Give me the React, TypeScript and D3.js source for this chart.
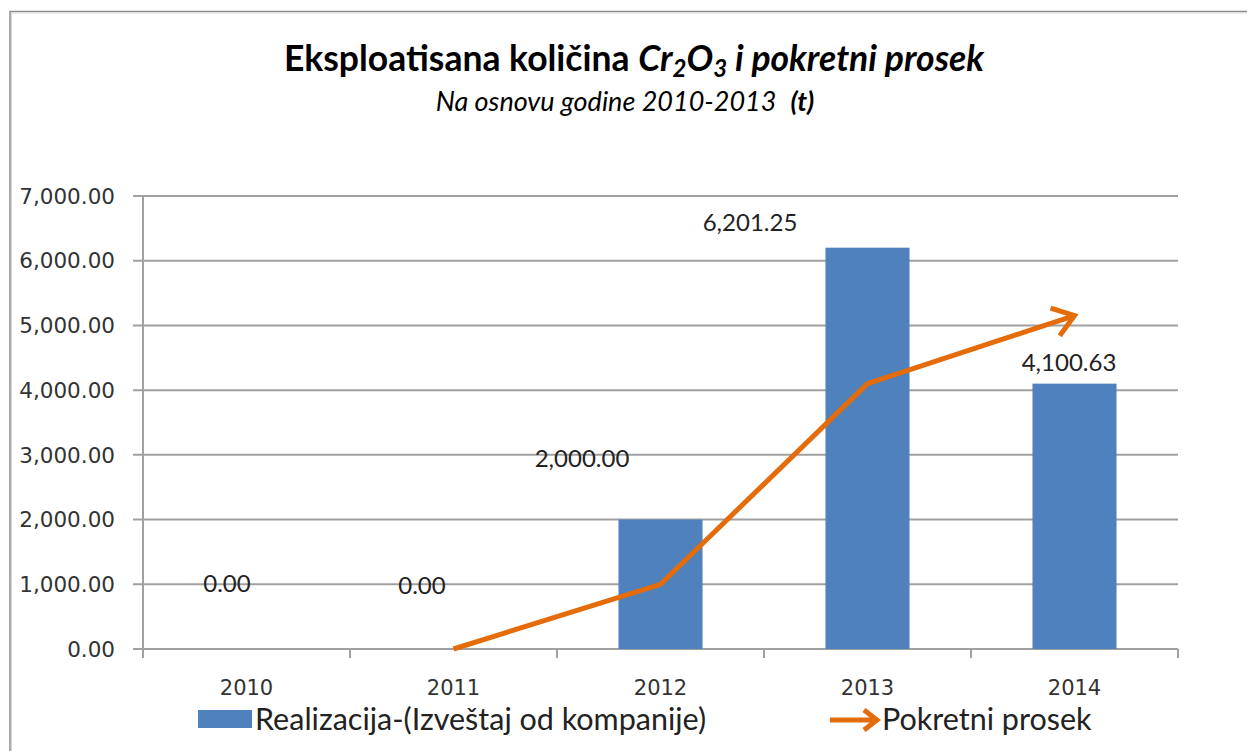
import React from "react";
import * as d3 from "d3";

const years = ["2010", "2011", "2012", "2013", "2014"];
const realizacija = [0, 0, 2000, 6201.25, 4100.63];
const pokretniProsek: (number | null)[] = [null, 0, 1000, 4100.63, 5150.94];
const yTicks = [0, 1000, 2000, 3000, 4000, 5000, 6000, 7000];
const labelTexts = ["0.00", "0.00", "2,000.00", "6,201.25", "4,100.63"];
// manual label displacement (px) as in the original
const labelShift = [
  [-19.5, -66],
  [-31.5, -64],
  [-78.5, -61.6],
  [-117.5, -25.7],
  [-5.5, -21.7],
];

const W = 1247;
const H = 751;
const plot = { left: 143, right: 1178, top: 196, bottom: 649 };
const BLUE = "#4F81BD";
const ORANGE = "#E46C0A";
const GRID = "#A0A0A0";
const CAL = "Lato, 'Open Sans', sans-serif";
const TAH = "'DejaVu Sans', Verdana, sans-serif";

export default function App() {
  const x = d3.scaleBand<string>().domain(years).range([plot.left, plot.right]).paddingInner(0.594).paddingOuter(0.297);
  const xb = d3.scaleBand<string>().domain(years).range([plot.left, plot.right]);
  const y = d3.scaleLinear().domain([0, 7000]).range([plot.bottom, plot.top]);
  const cx = (yr: string) => (xb(yr) as number) + xb.bandwidth() / 2;

  const pts = years
    .map((yr, i) => ({ yr, v: pokretniProsek[i] }))
    .filter((d) => d.v !== null) as { yr: string; v: number }[];
  const line = d3
    .line<{ yr: string; v: number }>()
    .x((d) => cx(d.yr))
    .y((d) => y(d.v));
  const last = pts[pts.length - 1];
  const prev = pts[pts.length - 2];
  const ex = cx(last.yr), ey = y(last.v);
  const ang = Math.atan2(ey - y(prev.v), ex - cx(prev.yr));
  const hl = 25, ha = 0.62;
  const head = `M${ex - hl * Math.cos(ang - ha)},${ey - hl * Math.sin(ang - ha)} L${ex},${ey} L${ex - hl * Math.cos(ang + ha)},${ey - hl * Math.sin(ang + ha)}`;

  const bounds = [plot.left, ...years.map((yr) => (xb(yr) as number) + xb.bandwidth())];

  return (
    <svg width={W} height={H} style={{ position: "absolute", left: 0, top: 0, background: "#fff" }}>
      <rect x={0} y={0} width={W} height={H} fill="#fff" />
      {/* frame */}
      <path d={`M10,${H + 5} L10,11.5 L${W + 5},11.5`} fill="none" stroke="#8c8c8c" strokeWidth={1.5} />
      <path d={`M11.5,${H + 5} L11.5,13 L${W + 5},13`} fill="none" stroke="#d9d9d9" strokeWidth={1} />

      {/* title */}
      <text x={634} y={71} textAnchor="middle" fontFamily={CAL} fontWeight="bold" fontSize={35.5} fill="#000">
        <tspan>Eksploatisana količina </tspan>
        <tspan fontStyle="italic">Cr</tspan>
        <tspan fontStyle="italic" fontSize={24} dy={6}>2</tspan>
        <tspan fontStyle="italic" dy={-6}>O</tspan>
        <tspan fontStyle="italic" fontSize={24} dy={6}>3</tspan>
        <tspan fontStyle="italic" dy={-6}> i pokretni prosek</tspan>
      </text>
      <text x={625} y={111} textAnchor="middle" fontFamily={CAL} fontStyle="italic" fontSize={27} fill="#000">
        <tspan>Na osnovu godine 2010-2013</tspan>
        <tspan fontWeight="bold" dx={14}>(t)</tspan>
      </text>

      {/* gridlines */}
      {yTicks.map((t) => (
        <line key={t} x1={plot.left - 10} x2={plot.right} y1={y(t)} y2={y(t)} stroke={GRID} strokeWidth={2} />
      ))}
      {/* y axis */}
      <line x1={plot.left} x2={plot.left} y1={plot.top} y2={plot.bottom + 9} stroke={GRID} strokeWidth={2} />
      {bounds.map((b, i) => (
        <line key={i} x1={b} x2={b} y1={plot.bottom} y2={plot.bottom + 9} stroke={GRID} strokeWidth={2} />
      ))}
      {yTicks.map((t) => (
        <text key={t} x={plot.left - 28} y={y(t)} dy="0.36em" textAnchor="end" fontFamily={TAH} fontSize={21.5} fill="#333">
          {d3.format(",.2f")(t)}
        </text>
      ))}
      {years.map((yr) => (
        <text key={yr} x={cx(yr)} y={687} dy="0.36em" textAnchor="middle" fontFamily={TAH} fontSize={21} fill="#333">
          {yr}
        </text>
      ))}

      {/* bars */}
      {years.map((yr, i) => (
        <rect key={yr} x={x(yr)} y={y(realizacija[i])} width={x.bandwidth()} height={plot.bottom - y(realizacija[i])} fill={BLUE} />
      ))}

      {/* moving average line */}
      <path d={line(pts) as string} fill="none" stroke={ORANGE} strokeWidth={5} strokeLinejoin="round" />
      <path d={head} fill="none" stroke={ORANGE} strokeWidth={5} strokeLinecap="butt" strokeLinejoin="miter" />

      {/* data labels */}
      {years.map((yr, i) => (
        <text
          key={yr}
          x={cx(yr) + labelShift[i][0]}
          y={y(realizacija[i]) + labelShift[i][1]}
          dy="0.36em"
          textAnchor="middle"
          fontFamily={CAL}
          fontSize={24}
          fill="#222"
        >
          {labelTexts[i]}
        </text>
      ))}

      {/* legend */}
      <rect x={198} y={710} width={54} height={18} fill={BLUE} />
      <text x={255} y={719} dy="0.36em" fontFamily={CAL} fontSize={30.5} fill="#222">
        Realizacija-(Izveštaj od kompanije)
      </text>
      <line x1={830} x2={874} y1={720} y2={720} stroke={ORANGE} strokeWidth={5} />
      <path d="M864,710 L877,720 L864,730" fill="none" stroke={ORANGE} strokeWidth={5} />
      <text x={882} y={719} dy="0.36em" fontFamily={CAL} fontSize={30.5} fill="#222">
        Pokretni prosek
      </text>
    </svg>
  );
}
